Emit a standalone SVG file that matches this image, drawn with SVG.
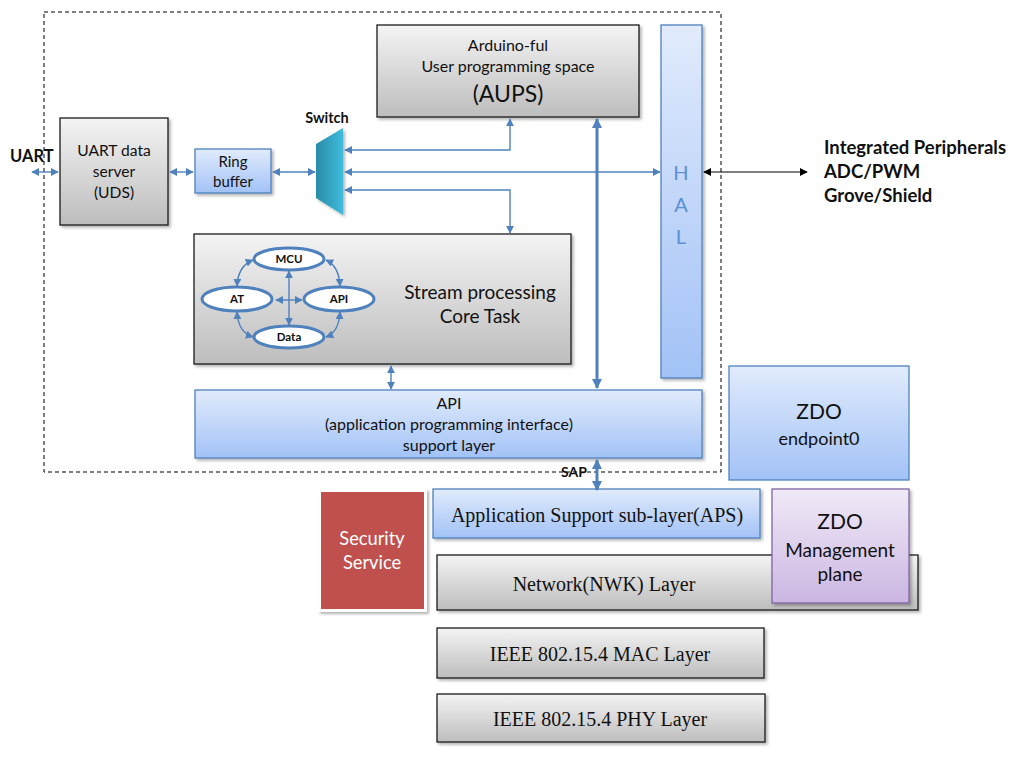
<svg xmlns="http://www.w3.org/2000/svg" width="1028" height="775" viewBox="0 0 1028 775">
<style>
.gray{fill:url(#gGray);stroke:#1a1a1a;stroke-width:1.3}
.blue{fill:url(#gBlue);stroke:#4f81bd;stroke-width:1.3}
.ell{fill:#fff;stroke:#4f81bd;stroke-width:3}
.con{fill:none;stroke:#4f81bd;stroke-width:1.4}
.t{font-family:Lato,"Liberation Sans",sans-serif;fill:#111;text-anchor:middle}
.s{font-family:"Liberation Serif",serif;fill:#111;text-anchor:middle;font-size:20px}
.b{font-family:Lato,"Liberation Sans",sans-serif;font-weight:bold;fill:#111}
</style>
<defs>
<linearGradient id="gGray" x1="0" y1="0" x2="0" y2="1"><stop offset="0" stop-color="#f4f4f4"/><stop offset="1" stop-color="#bdbdbd"/></linearGradient>
<linearGradient id="gBlue" x1="0" y1="0" x2="0" y2="1"><stop offset="0" stop-color="#e1ebfc"/><stop offset="1" stop-color="#a2c2f6"/></linearGradient>
<linearGradient id="gPurp" x1="0" y1="0" x2="0" y2="1"><stop offset="0" stop-color="#f0eaf7"/><stop offset="1" stop-color="#cbb6e2"/></linearGradient>
<linearGradient id="gSw" x1="0" y1="0" x2="1" y2="0"><stop offset="0" stop-color="#2a8ca6"/><stop offset="1" stop-color="#3ebbdc"/></linearGradient>
<filter id="sh" x="-10%" y="-10%" width="130%" height="130%"><feDropShadow dx="2" dy="2" stdDeviation="1.5" flood-color="#000" flood-opacity="0.3"/></filter>
<marker id="a" viewBox="0 0 10 10" refX="9" refY="5" markerWidth="8" markerHeight="8" markerUnits="userSpaceOnUse" orient="auto-start-reverse"><path d="M0,0 L10,5 L0,10 z" fill="#4f81bd"/></marker>
<marker id="aB" viewBox="0 0 10 10" refX="9" refY="5" markerWidth="10" markerHeight="10" markerUnits="userSpaceOnUse" orient="auto-start-reverse"><path d="M0,0 L10,5 L0,10 z" fill="#4f81bd"/></marker>
<marker id="k" viewBox="0 0 10 10" refX="9" refY="5" markerWidth="8" markerHeight="8" markerUnits="userSpaceOnUse" orient="auto-start-reverse"><path d="M0,0 L10,5 L0,10 z" fill="#000"/></marker>
</defs>
<rect width="1028" height="775" fill="#fff"/>
<rect x="44" y="12" width="677" height="460" fill="none" stroke="#000" stroke-width="1" stroke-dasharray="4,3"/>

<g id="uds"><rect class="gray" x="60" y="118" width="108" height="107" filter="url(#sh)"/>
<text class="t" x="114" y="156" font-size="15.6">UART data</text><text class="t" x="114" y="177" font-size="15.6">server</text><text class="t" x="114" y="198" font-size="15.6">(UDS)</text></g>
<g id="ring"><rect class="blue" x="195" y="149" width="76" height="44" filter="url(#sh)"/>
<text class="t" x="233" y="167" font-size="15">Ring</text><text class="t" x="233" y="187" font-size="15">buffer</text></g>
<g id="switch"><polygon points="316,144 343,128 343,215 316,198" fill="url(#gSw)" filter="url(#sh)"/>
<text class="b" x="327" y="123" font-size="14.5" text-anchor="middle">Switch</text></g>
<g id="aups"><rect class="gray" x="377" y="25" width="262" height="92" filter="url(#sh)"/>
<text class="t" x="508" y="51" font-size="16">Arduino-ful</text><text class="t" x="508" y="72" font-size="16">User programming space</text><text class="t" x="508" y="102" font-size="23">(AUPS)</text></g>
<g id="hal"><rect class="blue" x="661" y="25" width="41" height="353" filter="url(#sh)"/>
<text class="t" x="681" y="180" font-size="20" style="fill:#5b8fd6">H</text><text class="t" x="681" y="212" font-size="20" style="fill:#5b8fd6">A</text><text class="t" x="681" y="244" font-size="20" style="fill:#5b8fd6">L</text></g>
<g id="periph"><text class="b" x="824" y="154" font-size="18.5">Integrated Peripherals</text><text class="b" x="824" y="178" font-size="18.5">ADC/PWM</text><text class="b" x="824" y="202" font-size="18.5">Grove/Shield</text></g>
<g id="uart"><text class="b" x="10" y="162" font-size="16.5">UART</text></g>
<g id="core"><rect class="gray" x="194" y="234" width="377" height="130" filter="url(#sh)"/>
<text class="t" x="480" y="299" font-size="19">Stream processing</text><text class="t" x="480" y="323" font-size="19">Core Task</text></g>
<g id="mcu"><ellipse class="ell" cx="289" cy="259" rx="35" ry="11"/><text class="b" x="289" y="263" font-size="11.5" text-anchor="middle">MCU</text></g>
<g id="at"><ellipse class="ell" cx="237" cy="299" rx="35" ry="12"/><text class="b" x="237" y="303" font-size="11.5" text-anchor="middle">AT</text></g>
<g id="apin"><ellipse class="ell" cx="339" cy="299" rx="35" ry="12"/><text class="b" x="339" y="303" font-size="11.5" text-anchor="middle">API</text></g>
<g id="data"><ellipse class="ell" cx="289" cy="337" rx="35" ry="11"/><text class="b" x="289" y="341" font-size="11.5" text-anchor="middle">Data</text></g>
<g id="apil"><rect class="blue" x="195" y="390" width="507" height="68" filter="url(#sh)"/>
<text class="t" x="449" y="409" font-size="16">API</text><text class="t" x="449" y="430" font-size="16">(application programming interface)</text><text class="t" x="449" y="451" font-size="16">support layer</text></g>
<g id="zdo0"><rect class="blue" x="729" y="366" width="180" height="114"/>
<text class="t" x="819" y="419" font-size="21">ZDO</text><text class="t" x="819" y="445" font-size="18">endpoint0</text></g>
<g id="sap"><text class="b" x="574" y="477" font-size="14" text-anchor="middle">SAP</text></g>
<g id="sec"><rect x="318" y="489" width="109" height="123" fill="#fff" filter="url(#sh)"/><rect x="321" y="492" width="103" height="117" fill="#c0504d"/>
<text class="t" x="372" y="545" font-size="18.3" style="fill:#fff">Security</text><text class="t" x="372" y="569" font-size="18.3" style="fill:#fff">Service</text></g>
<g id="aps"><rect class="blue" x="433" y="489" width="327" height="49" filter="url(#sh)"/>
<text class="s" x="597" y="522">Application Support sub-layer(APS)</text></g>
<g id="nwk"><rect class="gray" x="437" y="555" width="481" height="55" filter="url(#sh)"/>
<text class="s" x="604" y="591">Network(NWK) Layer</text></g>
<g id="zdom"><rect x="772" y="489" width="137" height="114" fill="url(#gPurp)" stroke="#8064a2" stroke-width="1.3" filter="url(#sh)"/>
<text class="t" x="840" y="529" font-size="21">ZDO</text><text class="t" x="840" y="557" font-size="19">Management</text><text class="t" x="840" y="581" font-size="19">plane</text></g>
<g id="mac"><rect class="gray" x="437" y="628" width="327" height="50" filter="url(#sh)"/>
<text class="s" x="600" y="661">IEEE 802.15.4 MAC Layer</text></g>
<g id="phy"><rect class="gray" x="437" y="694" width="328" height="48" filter="url(#sh)"/>
<text class="s" x="600" y="726">IEEE 802.15.4 PHY Layer</text></g>

<g id="connectors">
<line class="con" x1="32" y1="172" x2="58" y2="172" marker-start="url(#a)" marker-end="url(#a)"/>
<line class="con" x1="170" y1="172" x2="193" y2="172" marker-start="url(#a)" marker-end="url(#a)"/>
<line class="con" x1="273" y1="172" x2="315" y2="172" marker-start="url(#a)" marker-end="url(#a)"/>
<polyline class="con" points="510,119 510,150 345,150" marker-start="url(#a)" marker-end="url(#a)"/>
<line class="con" x1="345" y1="172" x2="660" y2="172" marker-start="url(#a)" marker-end="url(#a)"/>
<polyline class="con" points="345,190 510,190 510,233" marker-start="url(#a)" marker-end="url(#a)"/>
<line x1="597" y1="119" x2="597" y2="388" stroke="#4f81bd" stroke-width="3" marker-start="url(#aB)" marker-end="url(#aB)"/>
<line x1="704" y1="172" x2="807" y2="172" stroke="#000" stroke-width="1.2" marker-start="url(#k)" marker-end="url(#k)"/>
<line class="con" x1="391" y1="366" x2="391" y2="389" marker-start="url(#a)" marker-end="url(#a)"/>
<line x1="597" y1="460" x2="597" y2="490" stroke="#4f81bd" stroke-width="3" marker-start="url(#aB)" marker-end="url(#aB)"/>
<path class="con" d="M237,286 Q238,266 253,260" marker-start="url(#a)" marker-end="url(#a)"/>
<path class="con" d="M326,260 Q339,266 340,286" marker-start="url(#a)" marker-end="url(#a)"/>
<path class="con" d="M237,312 Q238,332 253,337" marker-start="url(#a)" marker-end="url(#a)"/>
<path class="con" d="M340,312 Q339,332 326,337" marker-start="url(#a)" marker-end="url(#a)"/>
<line class="con" x1="289" y1="271" x2="289" y2="325" marker-start="url(#a)" marker-end="url(#a)"/>
<line class="con" x1="276" y1="300" x2="302" y2="300" marker-start="url(#a)" marker-end="url(#a)"/>
</g>
</svg>
